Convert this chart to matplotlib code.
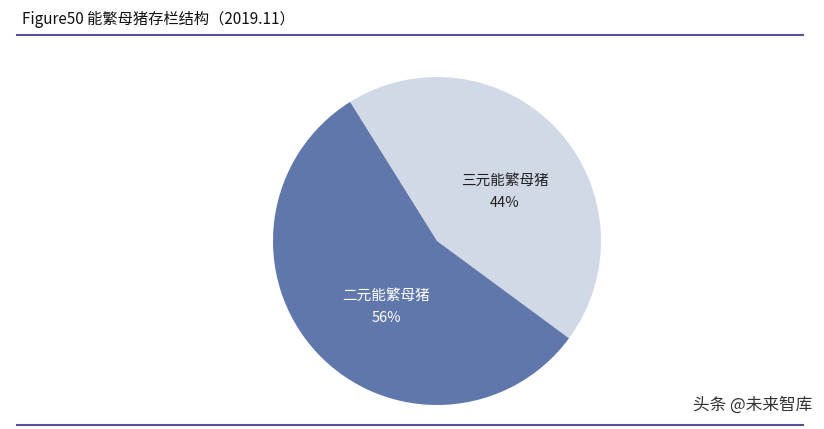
import matplotlib
matplotlib.use("Agg")
import matplotlib.pyplot as plt

plt.rcParams['font.family'] = ['Noto Sans CJK SC', 'DejaVu Sans']

labels = ['三元能繁母猪', '二元能繁母猪']
values = [44, 56]
colors = ['#D1D8E6', '#6077AB']

fig = plt.figure(figsize=(8.24, 4.29), dpi=100)
W, H = 824, 429
ax = fig.add_axes([(437-164)/W, 1-(241+164)/H, 328/W, 328/H])
wedges, _ = ax.pie(values, colors=colors, startangle=122, counterclock=False,
                   wedgeprops=dict(linewidth=0))
ax.set_aspect('equal')
ax.set_xlim(-1, 1); ax.set_ylim(-1, 1)

def place(px, py, txt, color):
    fig.text(px/W, 1-py/H, txt, ha='center', va='center', fontsize=10.5, color=color)

place(505, 181, labels[0], '#222222')
place(505, 203, f'{values[0]}%', '#222222')
place(386, 296, labels[1], 'white')
place(386, 318, f'{values[1]}%', 'white')

fig.text(22/W, 1-19/H, 'Figure50 能繁母猪存栏结构（2019.11）', ha='left', va='center',
         fontsize=11, color='#111111')
line_color = '#5B4E9E'
fig.add_artist(plt.Line2D([17/W, 803/W], [1-35/H, 1-35/H], color=line_color, lw=1.5))
fig.add_artist(plt.Line2D([17/W, 803/W], [1-425/H, 1-425/H], color=line_color, lw=1.5))
fig.text(812/W, 1-405/H, '头条 @未来智库', ha='right', va='center', fontsize=12, color='#333333')

fig.savefig('out.png', dpi=100)
